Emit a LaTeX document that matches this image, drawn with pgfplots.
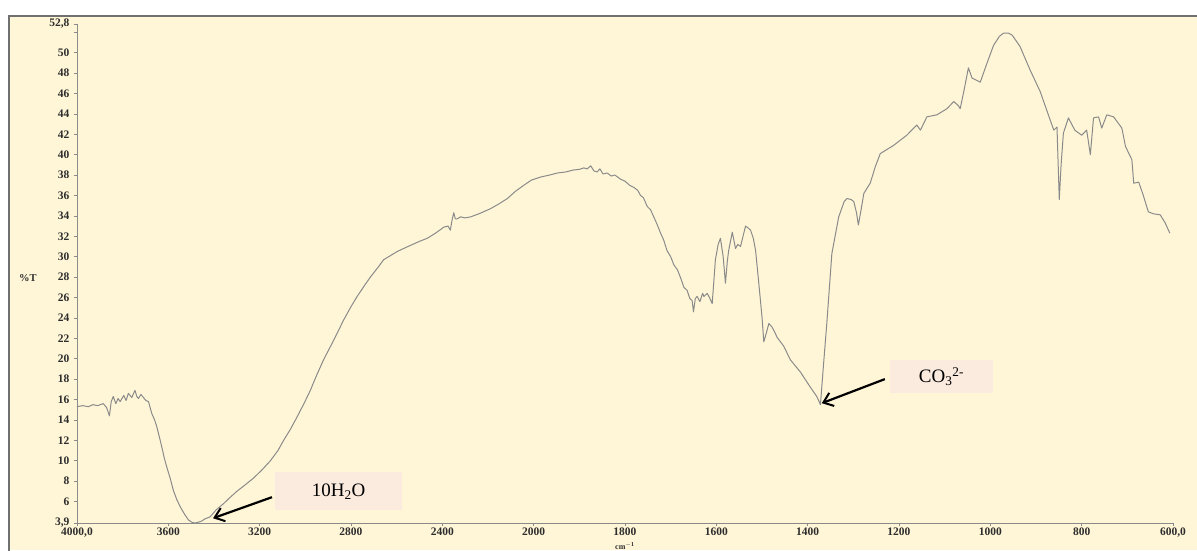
\documentclass[border=0pt]{standalone}
\usepackage{fontspec}
\setmainfont{Liberation Serif}
\usepackage{pgfplots}
\pgfplotsset{compat=1.18}
\usetikzlibrary{arrows.meta}

\definecolor{paper}{RGB}{255,246,215}
\definecolor{framegray}{RGB}{112,112,112}
\definecolor{trace}{RGB}{138,138,138}
\definecolor{tag}{RGB}{251,234,222}
\definecolor{ticktext}{RGB}{45,45,45}

% IR transmittance spectrum: wavenumber (cm^-1) vs. %T
\pgfplotstableread{
nu T
4000 15.3
3975 15.4
3950 15.3
3930 15.5
3910 15.4
3885 15.6
3870 15.2
3858 14.4
3850 15.8
3841 16.3
3830 15.6
3820 16.1
3811 15.8
3795 16.4
3785 15.9
3775 16.6
3760 16.2
3746 16.9
3738 16.3
3731 16.1
3720 16.5
3709 16.2
3698 15.9
3687 15.8
3672 14.6
3660 14.0
3650 13.3
3640 12.4
3629 11.4
3618 10.3
3607 9.4
3592 8.3
3578 7.1
3563 6.2
3548 5.5
3530 4.8
3512 4.2
3495 3.95
3482 3.9
3465 4.0
3453 4.1
3440 4.3
3417 4.5
3390 5.2
3358 5.8
3330 6.4
3300 7.0
3260 7.7
3227 8.3
3190 9.1
3153 10.0
3120 11.0
3095 12.0
3065 13.1
3036 14.3
3006 15.6
2978 16.9
2950 18.4
2920 19.9
2876 21.8
2832 23.8
2800 25.1
2773 26.1
2740 27.2
2715 28.0
2680 29.0
2657 29.7
2620 30.2
2598 30.5
2560 30.9
2540 31.1
2500 31.5
2466 31.8
2430 32.3
2393 32.9
2375 33.0
2365 32.6
2358 33.5
2350 34.3
2343 33.7
2335 33.7
2320 33.9
2300 33.8
2276 33.9
2240 34.2
2189 34.7
2150 35.2
2115 35.7
2080 36.4
2043 37.0
2010 37.5
1985 37.8
1965 38.0
1948 38.2
1930 38.3
1912 38.5
1900 38.55
1890 38.7
1883 38.6
1875 38.9
1868 38.4
1861 38.3
1855 38.6
1848 38.1
1839 38.2
1830 37.9
1822 38.0
1810 37.6
1800 37.4
1790 37.0
1781 36.8
1772 36.5
1766 36.0
1760 35.8
1751 34.9
1744 34.6
1737 33.9
1730 33.2
1722 32.3
1715 31.6
1708 30.6
1700 30.0
1693 29.2
1685 28.7
1678 27.9
1671 27.0
1664 26.7
1658 25.9
1653 25.7
1650 24.6
1646 25.9
1642 26.1
1636 25.6
1630 26.4
1627 26.1
1620 26.4
1615 26.0
1609 25.4
1602 29.7
1596 31.2
1591 31.8
1585 30.0
1580 27.4
1576 29.5
1573 30.6
1565 32.4
1561 31.5
1558 30.8
1553 31.2
1547 31.0
1536 33.0
1530 32.8
1525 32.6
1519 31.8
1514 30.6
1507 27.4
1500 24.1
1496 21.65
1490 22.6
1485 23.45
1478 23.1
1472 22.6
1467 22.1
1452 21.2
1438 19.9
1416 18.7
1394 17.2
1380 16.3
1372 15.5
1366 19.0
1358 23.5
1347 30.3
1332 33.9
1320 35.4
1314 35.7
1305 35.6
1299 35.4
1293 34.3
1289 33.1
1283 34.6
1277 36.2
1263 37.2
1252 38.8
1241 40.1
1212 40.9
1183 41.9
1161 42.9
1153 42.4
1139 43.7
1117 43.9
1095 44.5
1080 45.2
1070 44.8
1066 44.5
1058 46.2
1048 48.5
1040 47.5
1022 47.1
1007 49.0
993 50.7
980 51.6
971 51.9
960 51.9
952 51.7
935 50.6
913 48.3
891 46.2
869 43.4
861 42.4
854 42.7
849 35.6
845 39.0
840 42.1
829 43.6
815 42.4
800 41.9
789 42.4
781 40.0
774 43.6
763 43.7
756 42.6
745 43.9
730 43.7
712 42.6
704 40.8
690 39.5
686 37.2
675 37.3
665 36.0
654 34.4
643 34.2
628 34.1
617 33.3
607 32.3
}\spectrum

\begin{document}
\begin{tikzpicture}[x=1pt,y=1pt]
\useasboundingbox (0,0) rectangle (1197,550);
\fill[white] (0,0) rectangle (1197,550);
\fill[paper] (9,0) rectangle (1197,534);
\draw[framegray, line width=2.5pt] (9,-5) -- (9,534) -- (1202,534);
\begin{axis}[
  at={(77pt,27pt)}, anchor=south west,
  scale only axis, width=1096pt, height=499pt,
  clip=false,
  x dir=reverse,
  % the scale doubles below 2000 cm^-1
  x filter/.expression={x>2000 ? 2000+(x-2000)/2 : x},
  xmin=600, xmax=3000,
  ymin=3.9, ymax=52.8,
  axis lines=left,
  axis line style={-, draw=trace, line width=0.8pt},
  tick style={draw=trace, line width=0.6pt},
  tick align=outside,
  major tick length=3pt,
  xtick={600,800,...,3000},
  xticklabels={{600,0},800,1000,1200,1400,1600,1800,2000,2400,2800,3200,3600,{4000,0}},
  ytick={3.9,6,8,...,52,52.8},
  yticklabels={{3,9},6,8,10,12,14,16,18,20,22,24,26,28,30,32,34,36,38,40,42,44,46,48,50,{},{52,8}},
  ticklabel style={font=\bfseries\fontsize{11.5}{11.5}\selectfont, text=ticktext},
  xticklabel style={yshift=-1pt, inner sep=1pt},
  yticklabel style={xshift=-1pt},
]
\addplot[trace, line width=1.0pt, line join=round] table[x=nu, y=T] {\spectrum};

% axis captions
\node[font=\bfseries\fontsize{10.5}{10.5}\selectfont, text=ticktext, xshift=-49pt] at (axis cs:3000,27.9) {\%T};
\node[font=\bfseries\fontsize{8}{8}\selectfont, text=ticktext, anchor=base, inner sep=0pt, yshift=-26.5pt] at (axis cs:1800,3.9) {cm$^{\mathbf{-1}}$};

% band assignments
\node[fill=tag, minimum width=127pt, minimum height=38pt, inner sep=0pt,
      font=\fontsize{19}{19}\selectfont] at (axis cs:2427,7.0) {10H\textsubscript{2}O};
\draw[-{Straight Barb[length=9pt,width=14pt,line width=2pt]}, line width=2.2pt]
  (axis cs:2573,6.43) -- (axis cs:2702,4.37);

\node[fill=tag, minimum width=103pt, minimum height=33pt, inner sep=0pt,
      font=\fontsize{19}{19}\selectfont] at (axis cs:1107,18.24) {CO\textsubscript{3}\textsuperscript{2-}};
\draw[-{Straight Barb[length=9pt,width=14pt,line width=2pt]}, line width=2.2pt]
  (axis cs:1231,18.0) -- (axis cs:1369,15.64);
\end{axis}
\end{tikzpicture}
\end{document}
